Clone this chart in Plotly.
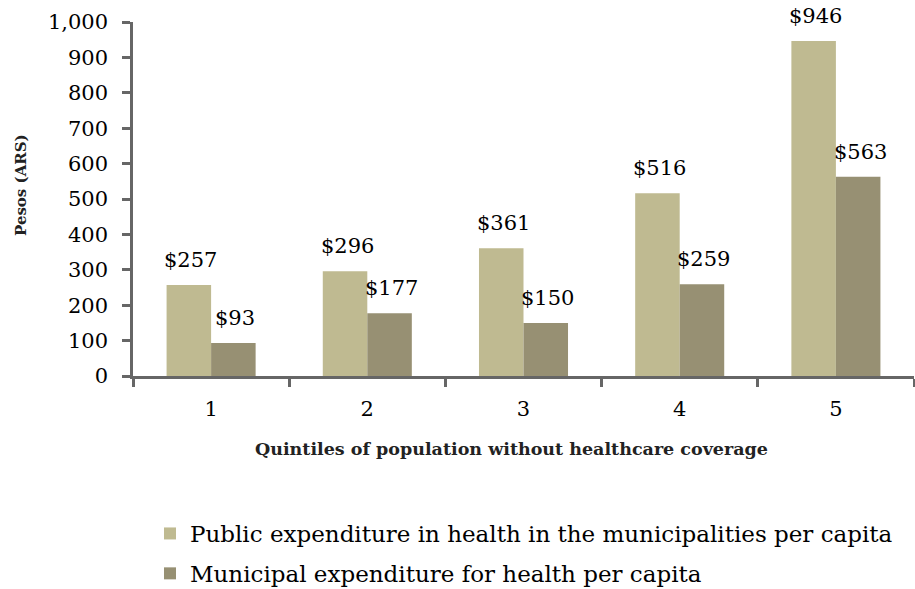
import plotly.graph_objects as go

# Health spending per capita by quintile of population without coverage
quintiles = ["1", "2", "3", "4", "5"]
public_health = [257, 296, 361, 516, 946]
municipal_health = [93, 177, 150, 259, 563]
series_names = [
    "Public expenditure in health in the municipalities per capita",
    "Municipal expenditure for health per capita",
]
y_ticks = [0, 100, 200, 300, 400, 500, 600, 700, 800, 900, 1000]
y_tick_labels = ["0", "100", "200", "300", "400", "500", "600", "700", "800", "900", "1,000"]
x_title = "Quintiles of population without healthcare coverage"
y_title = "Pesos (ARS)"

LIGHT = "#BFBA91"
DARK = "#979073"
AXIS = "#666666"
FONT = "DejaVu Serif"

W, H = 915, 589
ML, MR, MT, MB = 133, 1, 22, 213
BARGAP = 0.43
PW, PH = W - ML - MR, H - MT - MB


def px_x(p):
    """pixel column -> paper x"""
    return (p - ML) / PW


def px_y(p):
    """pixel row -> paper y"""
    return (MT + PH - p) / PH


fig = go.Figure()
for name, vals, col in [(series_names[0], public_health, LIGHT),
                        (series_names[1], municipal_health, DARK)]:
    fig.add_trace(go.Bar(
        x=quintiles, y=vals, name=name, legendgroup=name,
        marker=dict(color=col, line=dict(width=0)),
    ))

# value labels above each bar, offset to the bar's slot within the group
cat_px = PW / len(quintiles)
bar_px = cat_px * (1 - BARGAP) / 2
annotations = []
for k, vals in enumerate([public_health, municipal_health]):
    shift = (k - 0.5) * bar_px
    for i, v in enumerate(vals):
        annotations.append(dict(
            x=i, y=v, xref="x", yref="y", text=f"${v}", showarrow=False,
            xshift=shift + 2, yshift=25, font=dict(family=FONT, size=21, color="#000"),
        ))

# axis titles
annotations.append(dict(
    x=px_x(511), y=px_y(449), xref="paper", yref="paper", showarrow=False,
    text=f"<b>{x_title}</b>", xanchor="center", yanchor="middle",
    font=dict(family=FONT, size=17.5, color="#222"),
))
annotations.append(dict(
    x=px_x(21), y=px_y(185), xref="paper", yref="paper", showarrow=False,
    text=f"<b>{y_title}</b>", textangle=-90, xanchor="center", yanchor="middle",
    font=dict(family=FONT, size=15, color="#222"),
))

fig.update_layout(
    width=W, height=H,
    margin=dict(l=ML, r=MR, t=MT, b=MB, autoexpand=False),
    paper_bgcolor="white", plot_bgcolor="white",
    barmode="group", bargap=BARGAP, bargroupgap=0,
    font=dict(family=FONT, size=20, color="#000"),
    annotations=annotations,
    showlegend=True,
    legend=dict(
        x=px_x(150), y=px_y(512),
        xanchor="left", yanchor="top",
        traceorder="grouped", tracegroupgap=7,
        font=dict(family=FONT, size=23, color="#000"),
        bgcolor="rgba(0,0,0,0)",
    ),
    xaxis=dict(
        type="category", showline=True, linecolor=AXIS, linewidth=2.5,
        ticks="outside", tickson="boundaries", ticklen=8, tickwidth=2.5, tickcolor=AXIS,
        tickfont=dict(family=FONT, size=21, color="#000"), ticklabelstandoff=12,
        showgrid=False, zeroline=False, automargin=False,
    ),
    yaxis=dict(
        range=[0, 1000], showline=True, linecolor=AXIS, linewidth=2.5,
        ticks="outside", ticklen=8, tickwidth=2.5, tickcolor=AXIS,
        tickvals=y_ticks, ticktext=y_tick_labels,
        tickfont=dict(family=FONT, size=21, color="#000"), ticklabelstandoff=10,
        showgrid=False, zeroline=False, automargin=False,
    ),
)

fig.write_html("out.html")
